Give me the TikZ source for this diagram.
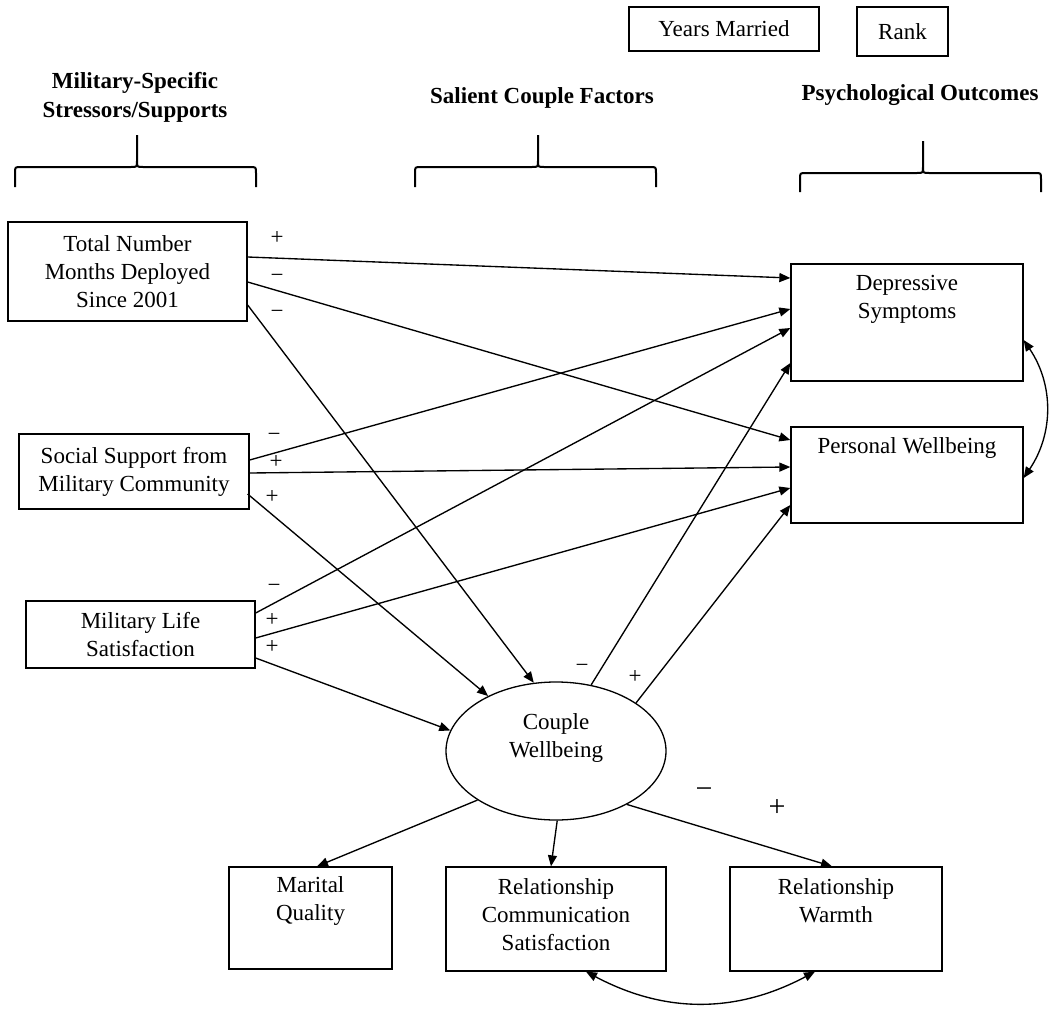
\documentclass[tikz,border=0pt]{standalone}
\usepackage{fontspec}
\setmainfont{Liberation Serif}
\usetikzlibrary{arrows.meta,shapes.geometric}
\begin{document}
\begin{tikzpicture}[x=1pt,y=-1pt,
  box/.style={draw,line width=1.3pt,inner sep=0pt},
  txt/.style={align=center,inner sep=0pt,font=\fontsize{23}{28}\selectfont},
  head/.style={align=center,inner sep=0pt,font=\fontsize{23}{29}\selectfont\bfseries},
  sign/.style={inner sep=0pt,font=\fontsize{23}{28}\selectfont},
  bigsign/.style={inner sep=0pt,font=\fontsize{30}{30}\selectfont},
  link/.style={line width=1.35pt,-{Triangle[length=11pt,width=9pt]}},
  covar/.style={line width=1.35pt,{Triangle[length=11pt,width=9pt]}-{Triangle[length=11pt,width=9pt]}},
  grp/.style={line width=2pt}]
\useasboundingbox (0,0) rectangle (1050,1009);

% control variables
\node[box,txt,minimum width=190pt,minimum height=44pt] (ym) at (724,29) {Years Married};
\node[box,txt,minimum width=91pt,minimum height=49pt] (rk) at (902.5,31.5) {Rank};

% column headings
\node[head] (h1) at (135,97) {Military-Specific\\Stressors/Supports};
\node[head] (h2) at (542,98) {Salient Couple Factors};
\node[head] (h3) at (920,95) {Psychological Outcomes};

% grouping brackets
\draw[grp] (15,187) -- (15,173) .. controls (15,167) .. (21,167) -- (131,167)
  .. controls (137,167) .. (137,161) -- (137,135)
  (137,161) .. controls (137,167) .. (143,167) -- (250,167)
  .. controls (256,167) .. (256,173) -- (256,187);
\draw[grp] (415,187) -- (415,173) .. controls (415,167) .. (421,167) -- (532,167)
  .. controls (538,167) .. (538,161) -- (538,135)
  (538,161) .. controls (538,167) .. (544,167) -- (650,167)
  .. controls (656,167) .. (656,173) -- (656,187);
\draw[grp] (800,192) -- (800,179) .. controls (800,173) .. (806,173) -- (917,173)
  .. controls (923,173) .. (923,167) -- (923,141)
  (923,167) .. controls (923,173) .. (929,173) -- (1035,173)
  .. controls (1041,173) .. (1041,179) -- (1041,192);

% predictors
\node[box,txt,minimum width=239pt,minimum height=99pt] (tot) at (127.5,271.5) {Total Number\\Months Deployed\\Since 2001};
\node[box,txt,minimum width=230pt,minimum height=75pt] (soc) at (134,471.5) {Social Support from\\Military Community};
\node[box,txt,minimum width=229pt,minimum height=67pt] (mil) at (140.5,634.5) {Military Life\\Satisfaction};

% outcomes
\node[box,minimum width=232pt,minimum height=117pt] (dep) at (907,322.5) {};
\node[txt] (dep-t) at (907,299) {Depressive\\Symptoms};
\node[box,minimum width=232pt,minimum height=96pt] (per) at (907,475) {};
\node[txt] (per-t) at (907,448) {Personal Wellbeing};

% latent couple factor
\node[draw,ellipse,line width=1.3pt,inner sep=0pt,minimum width=220pt,minimum height=138pt] (cw) at (556,751) {};
\node[txt] (cw-t) at (556,738) {Couple\\Wellbeing};

% indicators
\node[box,minimum width=163pt,minimum height=102pt] (mar) at (310.5,918) {};
\node[txt] (mar-t) at (310.5,901) {Marital\\Quality};
\node[box,minimum width=220pt,minimum height=104pt] (rcs) at (556,919) {};
\node[txt] (rcs-t) at (556,915) {Relationship\\Communication\\Satisfaction};
\node[box,minimum width=212pt,minimum height=104pt] (rw) at (836,919) {};
\node[txt] (rw-t) at (836,901) {Relationship\\Warmth};

% paths from predictors
\draw[link] ([yshift=14.5pt]tot.east) -- ([yshift=44.5pt]dep.west);
\draw[link] ([yshift=-10.5pt]tot.east) -- ([yshift=35pt]per.west);
\draw[link] ([yshift=-33.5pt]tot.east) -- (cw.108);
\draw[link] ([yshift=11.5pt]soc.east) -- ([yshift=13.5pt]dep.west);
\draw[link] ([yshift=-1.5pt]soc.east) -- ([yshift=8pt]per.west);
\draw[link] ([yshift=-22.5pt,xshift=-2pt]soc.east) -- (cw.141);
\draw[link] ([yshift=21.5pt]mil.east) -- ([yshift=-5.5pt]dep.west);
\draw[link] ([yshift=-3.5pt]mil.east) -- ([yshift=-13pt]per.west);
\draw[link] ([yshift=-23.5pt]mil.east) -- (cw.169);

% paths from couple wellbeing
\draw[link] (cw.62) -- ([yshift=-40.5pt]dep.west);
\draw[link] (cw.31) -- ([yshift=-30pt]per.west);
\draw[link] (cw.212) -- ([xshift=6.5pt]mar.north);
\draw[link] (cw.271) -- ([xshift=-5pt]rcs.north);
\draw[link] (cw.323) -- ([xshift=-4pt]rw.north);

% covariances
\draw[covar] ([yshift=-17.5pt]dep.east) to[bend left=34] ([yshift=-3pt]per.east);
\draw[covar] ([xshift=30pt]rcs.south) to[bend right=28] ([xshift=-21pt]rw.south);

% signs
\node[sign] (s1) at (277,238) {+};
\node[sign] (s2) at (277,278) {−};
\node[sign] (s3) at (277,314) {−};
\node[sign] (s4) at (274,437) {−};
\node[sign] (s5) at (276,462) {+};
\node[sign] (s6) at (272,497) {+};
\node[sign] (s7) at (274,588) {−};
\node[sign] (s8) at (272,620) {+};
\node[sign] (s9) at (272,647) {+};
\node[sign] (s10) at (582,668) {−};
\node[sign] (s11) at (635,677) {+};
\node[bigsign] (s12) at (704,793) {−};
\node[bigsign] (s13) at (777,808) {+};
\end{tikzpicture}
\end{document}
